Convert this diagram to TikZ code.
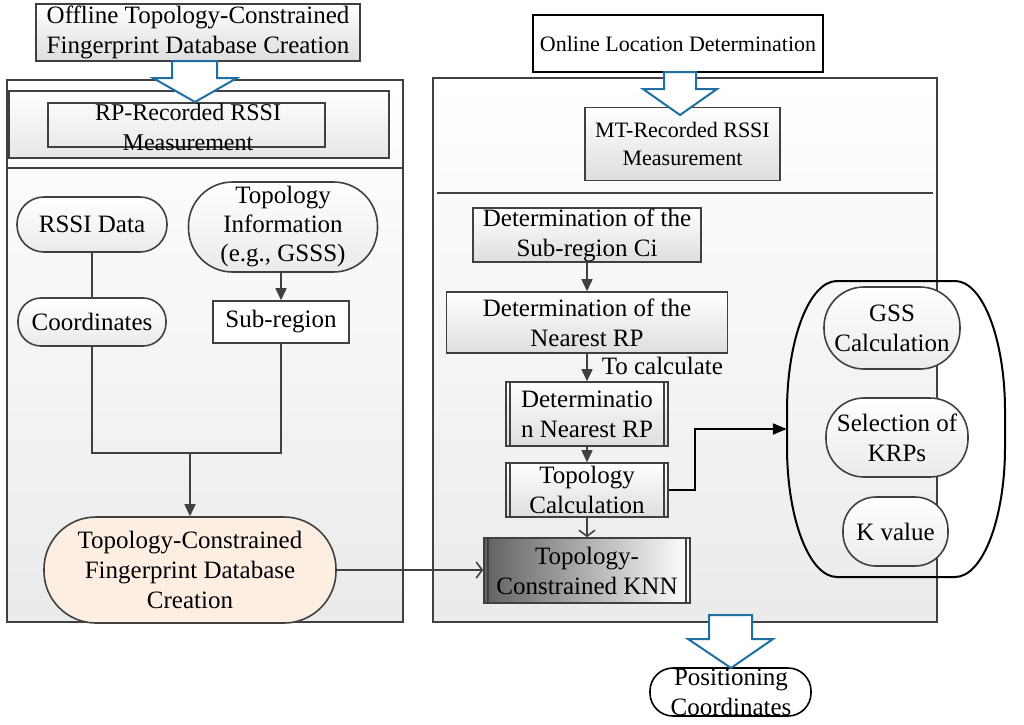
\documentclass[tikz,border=0pt]{standalone}
\usepackage{fontspec}
\setmainfont{Liberation Serif}
\usetikzlibrary{arrows.meta}
\definecolor{dgray}{HTML}{404040}
\definecolor{ablue}{HTML}{1F6FA0}
\definecolor{peach}{HTML}{FDEEE2}
\begin{document}
\begin{tikzpicture}[x=1pt,y=-1pt,
  box/.style={draw=dgray, line width=1.6pt, inner sep=0pt, align=center, font=\fontsize{25}{30}\selectfont},
  gradbox/.style={box, top color=white, bottom color=black!13},
  stad/.style={box, rounded corners=#1, top color=white, bottom color=black!8},
  panel/.style={draw=dgray, line width=1.6pt, top color=white, bottom color=black!8, inner sep=0pt},
  conn/.style={draw=dgray, line width=1.6pt},
  arr/.style={conn, -{Triangle[length=12pt,width=11pt]}},
  barb/.style={conn, -{Straight Barb[length=6pt,width=16pt]}},
  blk/.style={draw=black, line width=2pt, -{Triangle[length=14pt,width=11pt]}},
  hollow/.style={draw=ablue, line width=2pt, fill=white, line join=miter},
  txt/.style={inner sep=0pt, align=center, font=\fontsize{25}{30}\selectfont}
]
\useasboundingbox (0,0) rectangle (1024,724);

% panels
\node[panel, minimum width=396pt, minimum height=542pt] (lp) at (205,351) {};
\draw[conn] (lp.west |- 0,168) -- (lp.east |- 0,168);
\node[draw=dgray, line width=2.5pt, top color=white, bottom color=black!10, inner sep=0pt,
      minimum width=380pt, minimum height=67pt] (rpp) at (199,124.5) {};
\node[box, minimum width=277pt, minimum height=44pt] (rp) at (186.5,125) {};
\node[txt, font=\fontsize{24}{30}\selectfont] (rpt) at (188,127) {RP-Recorded RSSI\\Measurement};

\node[panel, minimum width=504pt, minimum height=544pt] (rpn) at (685,350) {};
\draw[draw=dgray, line width=2.5pt] (437,193) -- (933,193);

% top boxes
\node[gradbox, minimum width=324pt, minimum height=57pt] (off) at (198,32.5)
  {Offline Topology-Constrained\\Fingerprint Database Creation};
\node[box, draw=black, fill=white, minimum width=290pt, minimum height=57pt,
      font=\fontsize{22}{27}\selectfont] (onl) at (678,43.5) {Online Location Determination};
\node[gradbox, minimum width=195pt, minimum height=73pt, font=\fontsize{22}{28}\selectfont]
  (mt) at (682.5,144) {MT-Recorded RSSI\\Measurement};

% left content
\node[stad=27pt, minimum width=150pt, minimum height=55pt] (rssi) at (92,224.5) {RSSI Data};
\node[stad=44pt, minimum width=189pt, minimum height=90pt, font=\fontsize{25}{29}\selectfont]
  (topo) at (283,227) {Topology\\Information\\(e.g., GSSS)};
\node[stad=23pt, minimum width=148pt, minimum height=48pt] (coord) at (92,322) {Coordinates};
\node[box, fill=white, minimum width=136pt, minimum height=42pt] (sub) at (281,322) {Sub-region};
\node[box, rounded corners=52pt, fill=peach, minimum width=292pt, minimum height=106pt]
  (db) at (190,570) {Topology-Constrained\\Fingerprint Database\\Creation};
\coordinate (j) at (190,453);

\draw[conn] (rssi.south) -- (coord.north);
\draw[arr] (topo.south -| sub.north) -- (sub.north);
\draw[conn] (coord.south) |- (j);
\draw[conn] (sub.south) |- (j);
\draw[arr] (j) -- (db.north);

% right content
\node[gradbox, minimum width=228pt, minimum height=54pt] (c1) at (587,235) {Determination of the\\Sub-region Ci};
\node[gradbox, minimum width=281pt, minimum height=61pt] (c2) at (587,322.5) {Determination of the\\Nearest RP};
\node[gradbox, minimum width=162pt, minimum height=64pt] (c3) at (587,414) {Determinatio\\n Nearest RP};
\node[gradbox, minimum width=162pt, minimum height=54pt] (c4) at (587,490) {Topology\\Calculation};
\node[box, left color=black!62, right color=white, minimum width=206pt, minimum height=65pt]
  (knn) at (587,570.5) {Topology-\\Constrained KNN};
\foreach \n in {c3,c4,knn}{
  \draw[conn] ([xshift=5pt]\n.north west) -- ([xshift=5pt]\n.south west);
  \draw[conn] ([xshift=-5pt]\n.north east) -- ([xshift=-5pt]\n.south east);
}

\draw[arr] (c1.south) -- (c2.north);
\draw[arr] (c2.south) -- node[txt, anchor=west, xshift=14pt, yshift=2pt] (tc) {To calculate} (c3.north);
\draw[arr] (c3.south) -- (c4.north);
\draw[barb] (c4.south) -- (knn.north);
\draw[barb] (db.east) -- (knn.west |- db.east);

% big rounded group
\node[minimum width=218pt, minimum height=296pt, inner sep=0pt] (big) at (896,429) {};
\draw[draw=black, line width=2pt]
  (837,281) -- (955,281) arc (-90:0:50 and 130) -- (1005,447) arc (0:90:50 and 130)
  -- (837,577) arc (90:180:50 and 130) -- (787,411) arc (180:270:50 and 130) -- cycle;
\node[stad=40pt, minimum width=136pt, minimum height=82pt] (gss) at (892,328) {GSS\\Calculation};
\node[stad=38pt, minimum width=142pt, minimum height=79pt] (krp) at (897,437.5) {Selection of\\KRPs};
\node[stad=33pt, minimum width=105pt, minimum height=69pt] (kv) at (895.5,531.5) {K value};

\draw[blk] (c4.east) -- ++(26,0) |- (big.west);

% positioning
\node[box, draw=black, rounded corners=23pt, fill=white, minimum width=161pt, minimum height=48pt] (pos) at (730.5,692) {};
\node[txt] (post) at (731,692.5) {Positioning\\Coordinates};

% hollow block arrows
\draw[hollow] (172,61) -- (217,61) -- (217,78) -- (237,78) -- (195,102) -- (153,78) -- (172,78) -- cycle;
\draw[hollow] (664,72) -- (696,72) -- (696,89) -- (717,89) -- (680,115) -- (643,89) -- (664,89) -- cycle;
\draw[hollow] (709,615) -- (752,615) -- (752,639) -- (773,639) -- (731,668) -- (688,639) -- (709,639) -- cycle;
\end{tikzpicture}
\end{document}
